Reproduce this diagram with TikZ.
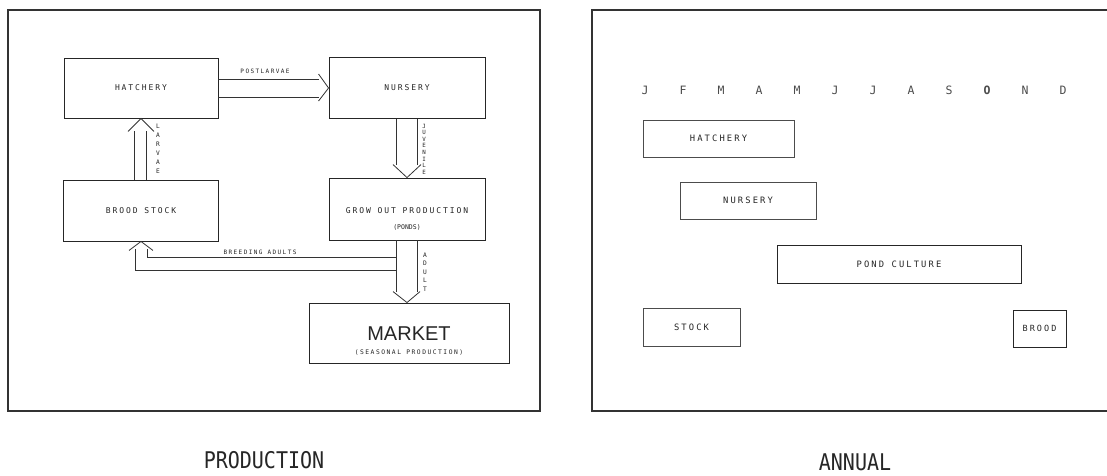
\documentclass[tikz,border=0pt]{standalone}
\usepackage{fontspec}
\usetikzlibrary{calc}
\newfontfamily\labf[LetterSpace=24]{DejaVu Sans Mono}
\newfontfamily\monof{DejaVu Sans Mono}
\newfontfamily\bigf[FakeStretch=0.87]{DejaVu Sans Mono}
\newfontfamily\mkf{Liberation Sans}
\begin{document}
\begin{tikzpicture}[x=1pt,y=-1pt,
  frame/.style={draw=black!80, line width=1.1pt},
  box/.style={draw=black!85, line width=0.9pt, rectangle, inner sep=0pt, text=black!85},
  bar/.style={draw=black!70, line width=0.8pt, rectangle, inner sep=0pt, text=black!85},
  ln/.style={draw=black!80, line width=0.8pt},
  lab/.style={font={\labf\fontsize{8}{10}\selectfont}},
  labr/.style={font={\labf\fontsize{8.8}{10}\selectfont}},
  small/.style={text=black!85, inner sep=0pt, font={\labf\fontsize{6}{7}\selectfont}},
  stack/.style={text=black!85, inner sep=0pt, align=center},
  month/.style={text=black!70, inner sep=0pt, font={\monof\fontsize{11.5}{12}\selectfont}},
  title/.style={text=black!85, inner sep=0pt, font={\bigf\fontsize{23}{25}\selectfont}}]
\useasboundingbox[fill=white] (0,0) rectangle (1107,475);

% ---------- left panel ----------
\draw[frame] (8,10) rectangle (540,411);

\node[box, lab, minimum width=154pt, minimum height=60pt] (hatch) at (141,88) {HATCHERY};
\node[box, lab, minimum width=156pt, minimum height=61pt] (nurs) at (407,88) {NURSERY};
\node[box, lab, minimum width=155pt, minimum height=61pt] (brood) at (141,210.5) {BROOD STOCK};
\node[box, minimum width=156pt, minimum height=62pt, align=center] (grow) at (407,209)
  {\labf\fontsize{8}{10}\selectfont\rule{0pt}{25pt}GROW OUT PRODUCTION\\[4pt]{\monof\fontsize{6.5}{7}\selectfont (PONDS)}};
\node[box, minimum width=200pt, minimum height=60pt, align=center] (market) at (409,333)
  {{\mkf\fontsize{20}{22}\selectfont\rule{0pt}{29pt}MARKET}\\[2pt]{\labf\fontsize{6.3}{7}\selectfont (SEASONAL PRODUCTION)}};

% postlarvae: hatchery -> nursery
\draw[ln] ($(hatch.east)+(0,-9)$) -- ($(nurs.west)+(-10,-9)$);
\draw[ln] ($(hatch.east)+(0,9)$) -- ($(nurs.west)+(-10,9)$);
\draw[ln] ($(nurs.west)+(-10,-14)$) -- (nurs.west) -- ($(nurs.west)+(-10,13)$);
\node[small] (lpost) at (265,71) {POSTLARVAE};

% larvae: brood stock -> hatchery
\draw[ln] ($(brood.north)+(-6.5,0)$) -- ($(hatch.south)+(-6.5,13)$);
\draw[ln] ($(brood.north)+(5.5,0)$) -- ($(hatch.south)+(5.5,13)$);
\draw[ln] ($(hatch.south)+(-13,13)$) -- (hatch.south) -- ($(hatch.south)+(13,13)$);
\node[stack, font={\labf\fontsize{6.2}{9}\selectfont}] (llarv) at (158,149) {L\\A\\R\\V\\A\\E};

% juvenile: nursery -> grow out
\draw[ln] ($(nurs.south)+(-11,0)$) -- ($(grow.north)+(-11,-13)$);
\draw[ln] ($(nurs.south)+(10,0)$) -- ($(grow.north)+(10,-13)$);
\draw[ln] ($(grow.north)+(-14,-13)$) -- (grow.north) -- ($(grow.north)+(14,-13)$);
\node[stack, font={\labf\fontsize{5.8}{6.6}\selectfont}] (ljuv) at (424,149) {J\\U\\V\\E\\N\\I\\L\\E};

% adult: grow out -> market
\coordinate (mtip) at (grow.south |- market.north);
\draw[ln] ($(grow.south)+(-11,0)$) -- ($(mtip)+(-11,-11)$);
\draw[ln] ($(grow.south)+(10,0)$) -- ($(mtip)+(10,-11)$);
\draw[ln] ($(mtip)+(-14,-11)$) -- (mtip) -- ($(mtip)+(13,-11)$);
\node[stack, font={\labf\fontsize{6.2}{8.5}\selectfont}] (ladult) at (425,272) {A\\D\\U\\L\\T};

% breeding adults: grow out -> brood stock
\draw[ln] ($(grow.south)+(-11,17)$) -- ($(brood.south)+(6,16)$) -- ($(brood.south)+(6,8)$);
\draw[ln] ($(grow.south)+(-11,30)$) -- ($(brood.south)+(-6,29)$) -- ($(brood.south)+(-6,8)$);
\draw[ln] ($(brood.south)+(-12,9)$) -- (brood.south) -- ($(brood.south)+(12,9)$);
\node[small] (lbreed) at (260,252) {BREEDING ADULTS};

\node[title] (tprod) at (264,460) {PRODUCTION};

% ---------- right panel ----------
\draw[frame] (1107,10) -- (592,10) -- (592,411) -- (1107,411);

\foreach \m [count=\i] in {J,F,M,A,M,J,J,A,S,{\bfseries O},N,D}
  \node[month] (m\i) at ({645+38*(\i-1)},90) {\m};

\node[bar, labr, minimum width=151pt, minimum height=37pt] (hatch2) at (718.5,138.5) {HATCHERY};
\node[bar, labr, minimum width=136pt, minimum height=37pt] (nurs2) at (748,200.5) {NURSERY};
\node[box, labr, minimum width=244pt, minimum height=38pt] (pond) at (899,264) {POND CULTURE};
\node[bar, labr, minimum width=97pt, minimum height=38pt] (stock) at (691.5,327) {STOCK};
\node[box, font={\labf\fontsize{8.5}{10}\selectfont}, minimum width=53pt, minimum height=37pt] (brood2) at (1039.5,328.5) {BROOD};

\node[title] (tann) at (855,462) {ANNUAL};
\end{tikzpicture}
\end{document}
